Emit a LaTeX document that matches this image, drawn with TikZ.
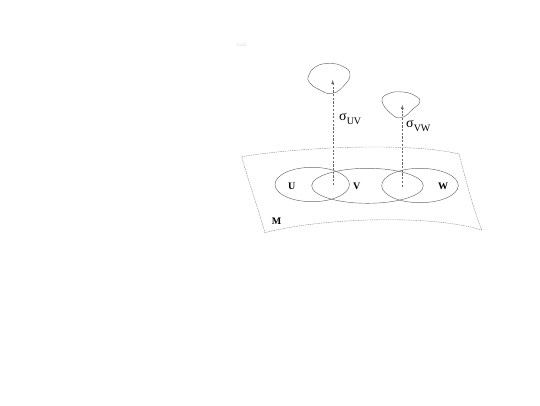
\documentclass[tikz,border=0pt]{standalone}
\usepackage{fontspec}
\setmainfont{Liberation Serif}
\tikzset{
  sheetline/.style={line width=0.4pt,color=black!45,dash pattern=on 1.5pt off 0.8pt},
  openset/.style={line width=0.45pt,color=black!60},
  fibreloop/.style={line width=0.45pt,color=black!60},
  transmap/.style={line width=0.4pt,color=black!60,dash pattern=on 2.2pt off 1.5pt,-latex},
  setlabel/.style={font=\fontsize{10}{10}\selectfont\bfseries,inner sep=0pt},
}
\begin{document}
\begin{tikzpicture}[x=1pt,y=-1pt]
		\useasboundingbox (0,0) rectangle (540,405);
		%faint heading
		\node[inner sep=0pt,color=black!15,font=\fontsize{5}{5}\selectfont] (back) at (242,45) {back};
		%manifold sheet
		\draw[sheetline] (241.7,156.7) .. controls (300,147) and (410,142) .. (459,154)
			.. controls (466,180) and (472,205) .. (481.7,230)
			.. controls (430,214) and (320,218) .. (265,232.7)
			.. controls (258,208) and (248,180) .. (241.7,156.7);
		%open sets
		\draw[openset] (312.2,184.5) ellipse (37.2 and 17.2);
		\draw[openset] (367.5,185.8) ellipse (55.8 and 17.5);
		\draw[openset] (420,185.5) ellipse (38.3 and 17.2);
		\node[setlabel] (U) at (291.7,186) {U};
		\node[setlabel] (V) at (356.7,186.7) {V};
		\node[setlabel] (W) at (443,186) {W};
		\node[setlabel] (M) at (276.7,221.7) {M};
		%fibres
		\draw[fibreloop] plot[smooth cycle,tension=0.8] coordinates {(308.5,76) (316,66.5) (330,63.5) (343,66.5) (350,74) (344.5,85) (332,93.5) (319,89.5) (310,83)};
		\draw[fibreloop] plot[smooth cycle,tension=0.8] coordinates {(382,101) (389,93.5) (403,92) (415.5,96) (420,102) (413.5,108.5) (402,117.5) (391.5,114)};
		%transition maps
		\coordinate (uvbase) at (332.7,185);
		\coordinate (uvtip) at (332.7,80);
		\coordinate (vwbase) at (402.3,186.7);
		\coordinate (vwtip) at (402.3,105);
		\draw[transmap] (uvbase) -- (uvtip);
		\draw[transmap] (vwbase) -- (vwtip);
		\node[anchor=west,inner sep=0pt] (sigmauv) at (339,119) {\fontsize{14}{14}\selectfont σ\raisebox{-3.5pt}{\fontsize{10}{10}\selectfont UV}};
		\node[anchor=west,inner sep=0pt] (sigmavw) at (406,126) {\fontsize{14}{14}\selectfont σ\raisebox{-3.5pt}{\fontsize{10}{10}\selectfont VW}};
\end{tikzpicture}
\end{document}
